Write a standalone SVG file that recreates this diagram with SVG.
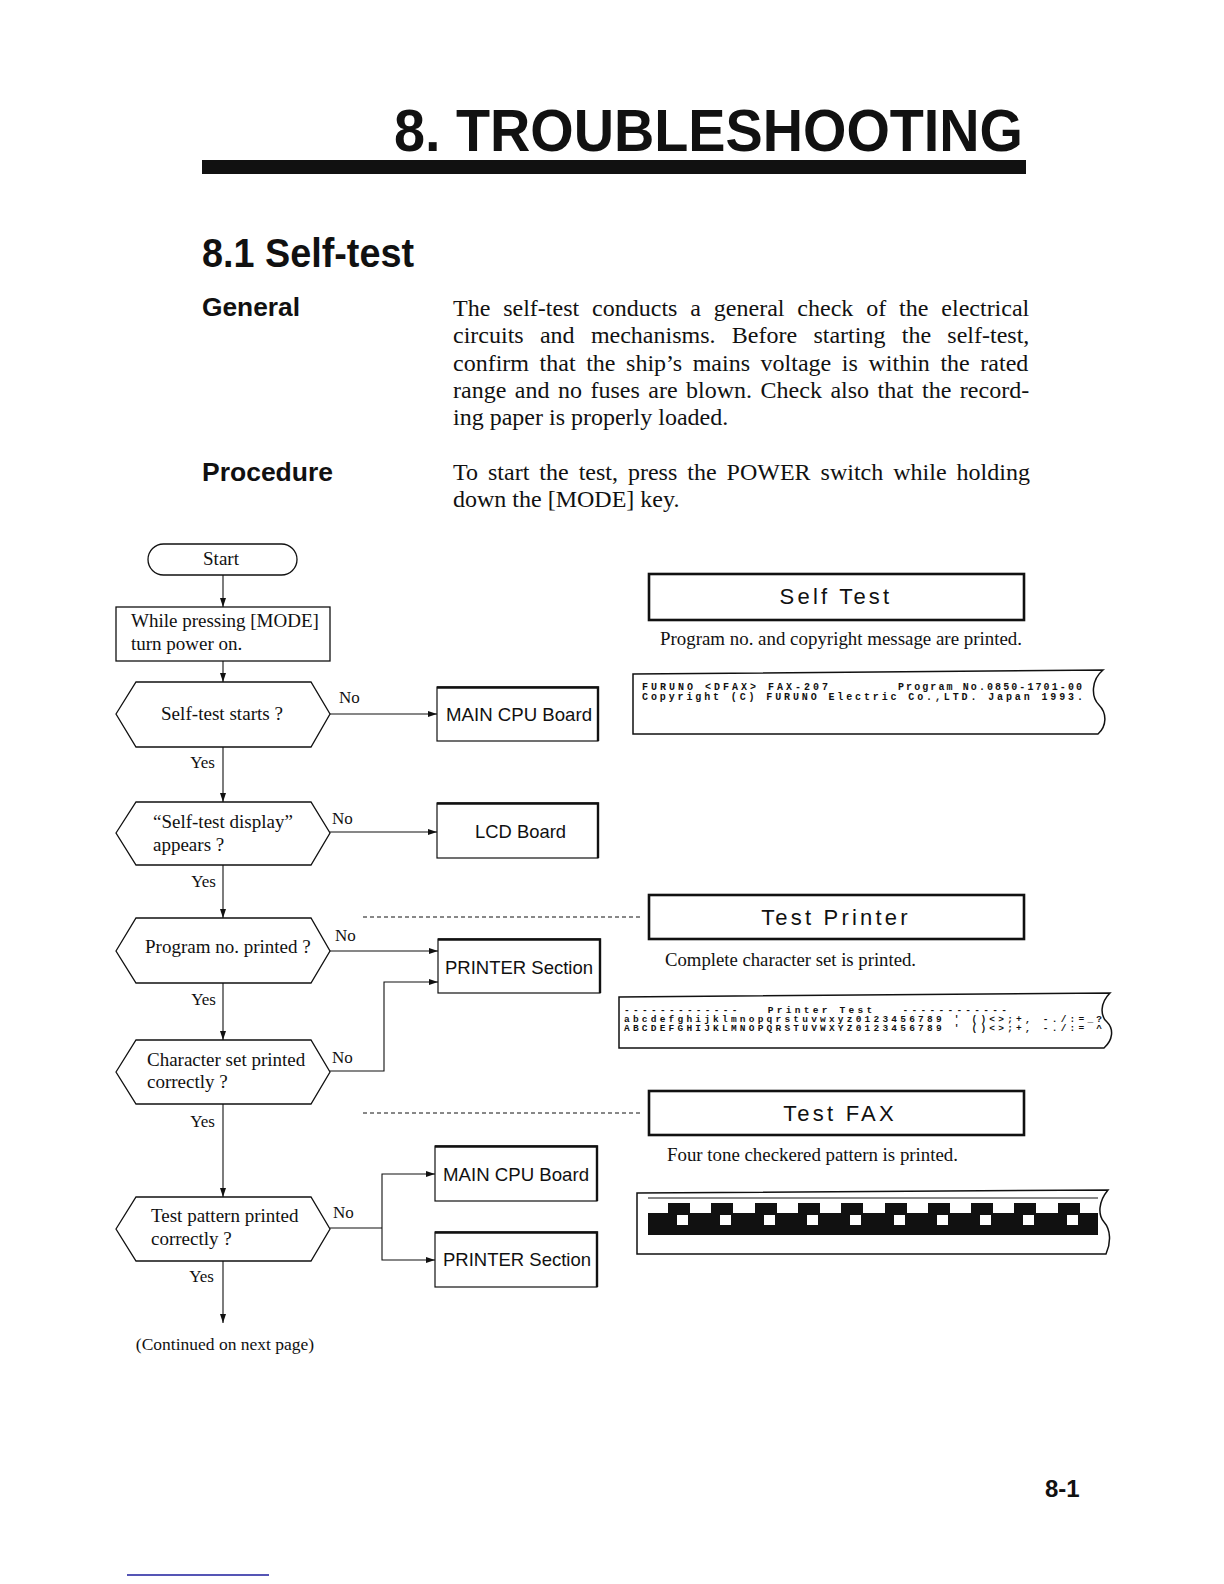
<svg xmlns="http://www.w3.org/2000/svg" width="1224" height="1584" viewBox="0 0 1224 1584">
<defs>
<marker id="arr" markerWidth="9" markerHeight="6" refX="9" refY="3" orient="auto" markerUnits="userSpaceOnUse">
<path d="M0,0 L9,3 L0,6 z" fill="#111"/>
</marker>
<style>
.bg{fill:#fff}
.serif{font-family:"Liberation Serif","Times New Roman",serif;fill:#111}
.sans{font-family:"Liberation Sans",Arial,sans-serif;fill:#111}
.mono{font-family:"Liberation Mono","Courier New",monospace;font-weight:bold;fill:#111}
.flow{font-size:19px}
.lbl{font-size:17px}
.shape{fill:#fff;stroke:#111;stroke-width:1.3}
.board{fill:#fff;stroke:#111;stroke-width:1.2}
.shadow{fill:none;stroke:#111;stroke-width:2.4}
.title{fill:#fff;stroke:#111;stroke-width:2.6}
.line{fill:none;stroke:#111;stroke-width:1.1}
.arrow{fill:none;stroke:#111;stroke-width:1.1;marker-end:url(#arr)}
.dash{fill:none;stroke:#111;stroke-width:1;stroke-dasharray:4 3}
.boardtxt{font-size:19px}
.ttl{font-size:22px;letter-spacing:3.2px}
.cap{font-size:19px}
.strip{fill:#fff;stroke:#111;stroke-width:1.5}
</style>
</defs>
<rect class="bg" x="0" y="0" width="1224" height="1584"/>

<g id="header">
<text class="sans" x="394" y="151" font-size="60" font-weight="bold" textLength="629" lengthAdjust="spacingAndGlyphs">8. TROUBLESHOOTING</text>
<rect x="202" y="160" width="824" height="14" fill="#111"/>
<text class="sans" x="202" y="267" font-size="41" font-weight="bold" textLength="212" lengthAdjust="spacingAndGlyphs">8.1 Self-test</text>
<text class="sans" x="202" y="316" font-size="26" font-weight="bold" textLength="98" lengthAdjust="spacingAndGlyphs">General</text>
<text class="sans" x="202" y="481" font-size="26" font-weight="bold" textLength="131" lengthAdjust="spacingAndGlyphs">Procedure</text>
<g class="serif" font-size="24">
<text x="453" y="316" word-spacing="6.9">The self-test conducts a general check of the electrical</text>
<text x="453" y="343" word-spacing="10.3">circuits and mechanisms. Before starting the self-test,</text>
<text x="453" y="371" word-spacing="4.6">confirm that the ship’s mains voltage is within the rated</text>
<text x="453" y="398" word-spacing="2.5">range and no fuses are blown. Check also that the record-</text>
<text x="453" y="425">ing paper is properly loaded.</text>
<text x="453" y="480" word-spacing="4.0">To start the test, press the POWER switch while holding</text>
<text x="453" y="507">down the [MODE] key.</text>
</g>
</g>

<g id="connectors">
<path class="arrow" d="M223,575 V607"/>
<path class="arrow" d="M223,661 V682"/>
<path class="arrow" d="M330,714 H437"/>
<path class="arrow" d="M223,747 V802"/>
<path class="arrow" d="M330,832 H437"/>
<path class="arrow" d="M223,865 V918"/>
<path class="arrow" d="M330,951 H438"/>
<path class="arrow" d="M223,983 V1040"/>
<path class="arrow" d="M330,1071 H384 V982 H438"/>
<path class="arrow" d="M223,1104 V1197"/>
<path class="line" d="M330,1228 H382"/>
<path class="arrow" d="M382,1228 V1174 H435"/>
<path class="arrow" d="M382,1228 V1260 H435"/>
<path class="arrow" d="M223,1261 V1323"/>
<path class="dash" d="M363,917 H643"/>
<path class="dash" d="M363,1113 H643"/>
<g class="serif lbl">
<text x="339" y="703">No</text>
<text x="332" y="824">No</text>
<text x="335" y="941">No</text>
<text x="332" y="1063">No</text>
<text x="333" y="1218">No</text>
<text x="215" y="768" text-anchor="end">Yes</text>
<text x="216" y="887" text-anchor="end">Yes</text>
<text x="216" y="1005" text-anchor="end">Yes</text>
<text x="215" y="1127" text-anchor="end">Yes</text>
<text x="214" y="1282" text-anchor="end">Yes</text>
</g>
</g>

<g id="start">
<rect class="shape" x="148" y="544" width="149" height="31" rx="15.5"/>
<text class="serif flow" x="221" y="565" text-anchor="middle" font-size="18">Start</text>
</g>
<g id="press-mode">
<rect class="shape" x="116" y="607" width="214" height="54"/>
<text class="serif flow" x="131" y="627">While pressing [MODE]</text>
<text class="serif flow" x="131" y="650">turn power on.</text>
</g>
<g id="q-selftest-starts">
<polygon class="shape" points="116,714 136,682 311,682 330,714 311,747 136,747"/>
<text class="serif flow" x="161" y="720" textLength="122" lengthAdjust="spacingAndGlyphs">Self-test starts ?</text>
</g>
<g id="q-display">
<polygon class="shape" points="116,833 136,802 311,802 330,833 311,865 136,865"/>
<text class="serif flow" x="153" y="828">“Self-test display”</text>
<text class="serif flow" x="153" y="851">appears ?</text>
</g>
<g id="q-program">
<polygon class="shape" points="116,951 136,918 311,918 330,951 311,983 136,983"/>
<text class="serif flow" x="145" y="953">Program no. printed ?</text>
</g>
<g id="q-charset">
<polygon class="shape" points="116,1072 136,1040 311,1040 330,1072 311,1104 136,1104"/>
<text class="serif flow" x="147" y="1066">Character set printed</text>
<text class="serif flow" x="147" y="1088">correctly ?</text>
</g>
<g id="q-pattern">
<polygon class="shape" points="116,1229 136,1197 311,1197 330,1229 311,1261 136,1261"/>
<text class="serif flow" x="151" y="1222">Test pattern printed</text>
<text class="serif flow" x="151" y="1245">correctly ?</text>
</g>
<g id="continued">
<text class="serif" x="225" y="1350" text-anchor="middle" font-size="17.5">(Continued on next page)</text>
</g>

<g id="main-cpu-1">
<rect class="board" x="437" y="687" width="161" height="54"/>
<path class="shadow" d="M437,687.5 H598 V741"/>
<text class="sans boardtxt" x="446" y="721" textLength="146" lengthAdjust="spacingAndGlyphs">MAIN CPU Board</text>
</g>
<g id="lcd-board">
<rect class="board" x="437" y="803" width="161" height="55"/>
<path class="shadow" d="M437,803.5 H598 V858"/>
<text class="sans boardtxt" x="475" y="838" textLength="91" lengthAdjust="spacingAndGlyphs">LCD Board</text>
</g>
<g id="printer-1">
<rect class="board" x="438" y="939" width="162" height="54"/>
<path class="shadow" d="M438,939.5 H600 V993"/>
<text class="sans boardtxt" x="445" y="974" textLength="148" lengthAdjust="spacingAndGlyphs">PRINTER Section</text>
</g>
<g id="main-cpu-2">
<rect class="board" x="435" y="1146" width="162" height="55"/>
<path class="shadow" d="M435,1146.5 H597 V1201"/>
<text class="sans boardtxt" x="443" y="1181" textLength="146" lengthAdjust="spacingAndGlyphs">MAIN CPU Board</text>
</g>
<g id="printer-2">
<rect class="board" x="435" y="1232" width="162" height="55"/>
<path class="shadow" d="M435,1232.5 H597 V1287"/>
<text class="sans boardtxt" x="443" y="1266" textLength="148" lengthAdjust="spacingAndGlyphs">PRINTER Section</text>
</g>

<g id="self-test-panel">
<rect class="title" x="649" y="574" width="375" height="46"/>
<text class="sans ttl" x="836" y="604" text-anchor="middle">Self Test</text>
<text class="serif cap" x="660" y="645" textLength="362" lengthAdjust="spacingAndGlyphs">Program no. and copyright message are printed.</text>
<path class="strip" d="M633,674 L1103,670 C1091,680 1091,697 1099,705 C1107,713 1107,726 1098,734 L633,734 Z"/>
<text class="mono" x="642" y="690" font-size="10" textLength="186" lengthAdjust="spacing">FURUNO &lt;DFAX&gt; FAX-207</text>
<text class="mono" x="898" y="690" font-size="10" textLength="184" lengthAdjust="spacing">Program No.0850-1701-00</text>
<text class="mono" x="642" y="700" font-size="10" textLength="441" lengthAdjust="spacing">Copyright (C) FURUNO Electric Co.,LTD. Japan 1993.</text>
</g>

<g id="test-printer-panel">
<rect class="title" x="649" y="895" width="375" height="44"/>
<text class="sans ttl" x="836" y="925" text-anchor="middle">Test Printer</text>
<text class="serif cap" x="665" y="966" textLength="251" lengthAdjust="spacingAndGlyphs">Complete character set is printed.</text>
<path class="strip" d="M619,997 L1110,993 C1100,1003 1100,1016 1107,1022 C1114,1029 1113,1040 1104,1048 L619,1048 Z"/>
<text class="mono" x="624" y="1013" font-size="9.5" textLength="383" lengthAdjust="spacing" xml:space="preserve">-------------   Printer Test   ------------</text>
<text class="mono" x="624" y="1022" font-size="9.5" textLength="478" lengthAdjust="spacing" xml:space="preserve">abcdefghijklmnopqrstuvwxyz0123456789 ' ()&lt;&gt;;+, -./:=_?</text>
<text class="mono" x="624" y="1031" font-size="9.5" textLength="478" lengthAdjust="spacing" xml:space="preserve">ABCDEFGHIJKLMNOPQRSTUVWXYZ0123456789 ' ()&lt;&gt;;+, -./:= ^</text>
</g>

<g id="test-fax-panel">
<rect class="title" x="649" y="1091" width="375" height="44"/>
<text class="sans ttl" x="840" y="1121" text-anchor="middle">Test FAX</text>
<text class="serif cap" x="667" y="1161" textLength="291" lengthAdjust="spacingAndGlyphs">Four tone checkered pattern is printed.</text>
<path class="strip" d="M637,1193 L1108,1190 C1098,1202 1098,1215 1104,1222 C1111,1230 1111,1243 1106,1254 L637,1254 Z"/>
<line x1="648" y1="1198" x2="1098" y2="1198" stroke="#111" stroke-width="1"/>
<rect x="648" y="1213" width="450" height="22" fill="#111"/>
<g fill="#111">
<rect x="668" y="1203" width="22" height="10"/>
<rect x="711" y="1203" width="22" height="10"/>
<rect x="755" y="1203" width="22" height="10"/>
<rect x="798" y="1203" width="22" height="10"/>
<rect x="841" y="1203" width="22" height="10"/>
<rect x="885" y="1203" width="22" height="10"/>
<rect x="928" y="1203" width="22" height="10"/>
<rect x="971" y="1203" width="22" height="10"/>
<rect x="1014" y="1203" width="22" height="10"/>
<rect x="1058" y="1203" width="22" height="10"/>
</g>
<g fill="#fff">
<rect x="677" y="1215" width="11" height="10"/>
<rect x="720" y="1215" width="11" height="10"/>
<rect x="764" y="1215" width="11" height="10"/>
<rect x="807" y="1215" width="11" height="10"/>
<rect x="850" y="1215" width="11" height="10"/>
<rect x="894" y="1215" width="11" height="10"/>
<rect x="937" y="1215" width="11" height="10"/>
<rect x="980" y="1215" width="11" height="10"/>
<rect x="1023" y="1215" width="11" height="10"/>
<rect x="1067" y="1215" width="11" height="10"/>
</g>
</g>

<g id="footer">
<text class="sans" x="1045" y="1497" font-size="24" font-weight="bold">8-1</text>
<line x1="127" y1="1575" x2="269" y2="1575" stroke="#1c1c9c" stroke-width="1.6"/>
</g>
</svg>
